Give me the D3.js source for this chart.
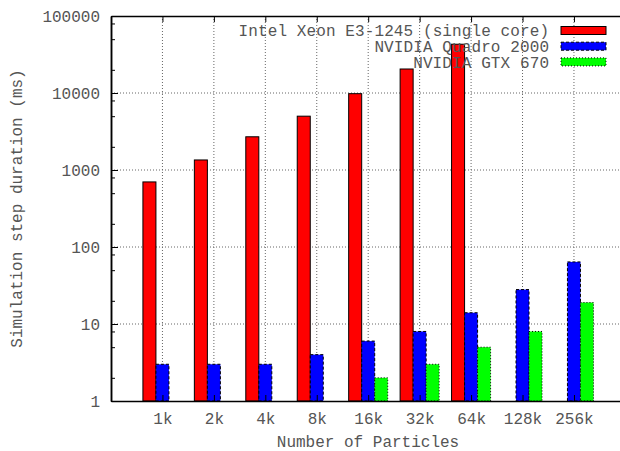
<!DOCTYPE html>
<html>
<head>
<meta charset="utf-8">
<script src="https://cdn.jsdelivr.net/npm/d3@7"></script>
<style>
  body { margin: 0; background: #fff; }
  svg { display: block; }
  text { font-family: "Liberation Mono", "DejaVu Sans Mono", monospace; font-size: 16px; fill: #555; }
  .grid line { stroke: #666; stroke-dasharray: 1,2; }
</style>
</head>
<body>
<div id="vis"></div>
<script>

// chart data
const CATEGORIES = ["1k", "2k", "4k", "8k", "16k", "32k", "64k", "128k", "256k"];
const SERIES_NAMES = ["Intel Xeon E3-1245 (single core)", "NVIDIA Quadro 2000", "NVIDIA GTX 670"];
const CPU_VALUES = [700, 1350, 2700, 5000, 9800, 20500, 43000, null, null];
const QUADRO_VALUES = [3, 3, 3, 4, 6, 8, 14, 28, 64];
const GTX_VALUES = [null, null, null, null, 2, 3, 5, 8, 19];
const Y_TICKS = [1, 10, 100, 1000, 10000, 100000];

// frame constants
const FRAME_WIDTH = 620;
const FRAME_HEIGHT = 451;
const MARGINS = {left: 111, right: -5.4, top: 16, bottom: 50};

const VIS_WIDTH = FRAME_WIDTH - MARGINS.left - MARGINS.right;
const VIS_HEIGHT = FRAME_HEIGHT - MARGINS.top - MARGINS.bottom;

const FILLS = ["#ff0000", "#0000ff", "#00ff00"];
const DASHES = ["none", "3,2", "1,2"];

const FRAME = d3.select("#vis")
                .append("svg")
                  .attr("width", FRAME_WIDTH)
                  .attr("height", FRAME_HEIGHT);

// scales
const X_SCALE = d3.scaleLinear()
                  .domain([-1, CATEGORIES.length])
                  .range([0, VIS_WIDTH]);
const Y_SCALE = d3.scaleLog()
                  .domain([1, 100000])
                  .range([VIS_HEIGHT, 0]);

const PLOT = FRAME.append("g")
                  .attr("transform", "translate(" + MARGINS.left + "," + MARGINS.top + ")");

// dotted grid
PLOT.append("g")
    .attr("class", "grid")
    .selectAll("line")
    .data(d3.range(CATEGORIES.length))
    .enter()
    .append("line")
      .attr("x1", (d) => X_SCALE(d))
      .attr("x2", (d) => X_SCALE(d))
      .attr("y1", 0)
      .attr("y2", VIS_HEIGHT);

PLOT.append("g")
    .attr("class", "grid")
    .selectAll("line")
    .data(Y_TICKS.slice(1, -1))
    .enter()
    .append("line")
      .attr("x1", 0)
      .attr("x2", VIS_WIDTH)
      .attr("y1", (d) => Y_SCALE(d))
      .attr("y2", (d) => Y_SCALE(d));

// bars, one group per series
const SERIES = [CPU_VALUES, QUADRO_VALUES, GTX_VALUES];
const BAR_W = X_SCALE(0.253) - X_SCALE(0);

SERIES.forEach((vals, s) => {
  PLOT.append("g")
      .selectAll("rect")
      .data(vals.map((v, i) => ({i: i, v: v})).filter((d) => d.v !== null))
      .enter()
      .append("rect")
        .attr("x", (d) => X_SCALE(d.i) + (s - 1.5) * BAR_W)
        .attr("y", (d) => Y_SCALE(d.v))
        .attr("width", BAR_W)
        .attr("height", (d) => VIS_HEIGHT - Y_SCALE(d.v))
        .attr("fill", FILLS[s])
        .attr("stroke", "#000")
        .attr("stroke-width", 1)
        .attr("stroke-dasharray", DASHES[s]);
});

// y axis, ticks pointing inward
PLOT.append("g")
    .call(d3.axisLeft(Y_SCALE)
            .tickValues(Y_TICKS)
            .tickFormat(d3.format("d"))
            .tickSizeInner(-7)
            .tickSizeOuter(0)
            .tickPadding(11));

// minor y ticks at 2, 5, 8 of each decade
const MINOR = [];
Y_TICKS.slice(0, -1).forEach((t) => { [2, 5, 8].forEach((m) => MINOR.push(t * m)); });
PLOT.append("g")
    .call(d3.axisLeft(Y_SCALE)
            .tickValues(MINOR)
            .tickFormat("")
            .tickSizeInner(-4)
            .tickSizeOuter(0));

// x axis
PLOT.append("g")
    .attr("transform", "translate(0," + VIS_HEIGHT + ")")
    .call(d3.axisBottom(X_SCALE)
            .tickValues(d3.range(CATEGORIES.length))
            .tickFormat((i) => CATEGORIES[i])
            .tickSizeInner(-6)
            .tickSizeOuter(0)
            .tickPadding(12));

// top border with mirror ticks
PLOT.append("g")
    .call(d3.axisTop(X_SCALE)
            .tickValues(d3.range(CATEGORIES.length))
            .tickFormat("")
            .tickSizeInner(-6)
            .tickSizeOuter(0));

PLOT.selectAll(".domain").attr("stroke", "#000").attr("stroke-width", 1.5);
PLOT.selectAll(".tick line").attr("stroke", "#000");
PLOT.selectAll(".tick text").attr("fill", "#555").attr("font-size", "16px")
    .attr("font-family", "'Liberation Mono', monospace");

// axis titles
FRAME.append("text")
     .attr("x", 368)
     .attr("y", 447)
     .attr("text-anchor", "middle")
     .text("Number of Particles");

FRAME.append("text")
     .attr("transform", "translate(22," + (MARGINS.top + VIS_HEIGHT / 2) + ") rotate(-90)")
     .attr("text-anchor", "middle")
     .text("Simulation step duration (ms)");

// legend
const LEGEND = FRAME.append("g");
SERIES_NAMES.forEach((name, s) => {
  const cy = 30.5 + s * 15.7;
  LEGEND.append("text")
        .attr("x", 549)
        .attr("y", cy)
        .attr("dy", "0.35em")
        .attr("text-anchor", "end")
        .attr("textLength", name.length * 9.7)
        .text(name);
  LEGEND.append("rect")
        .attr("x", 561)
        .attr("y", cy - 4)
        .attr("width", 45)
        .attr("height", 8)
        .attr("fill", FILLS[s])
        .attr("stroke", "#000")
        .attr("stroke-dasharray", DASHES[s]);
});

</script>
</body>
</html>
